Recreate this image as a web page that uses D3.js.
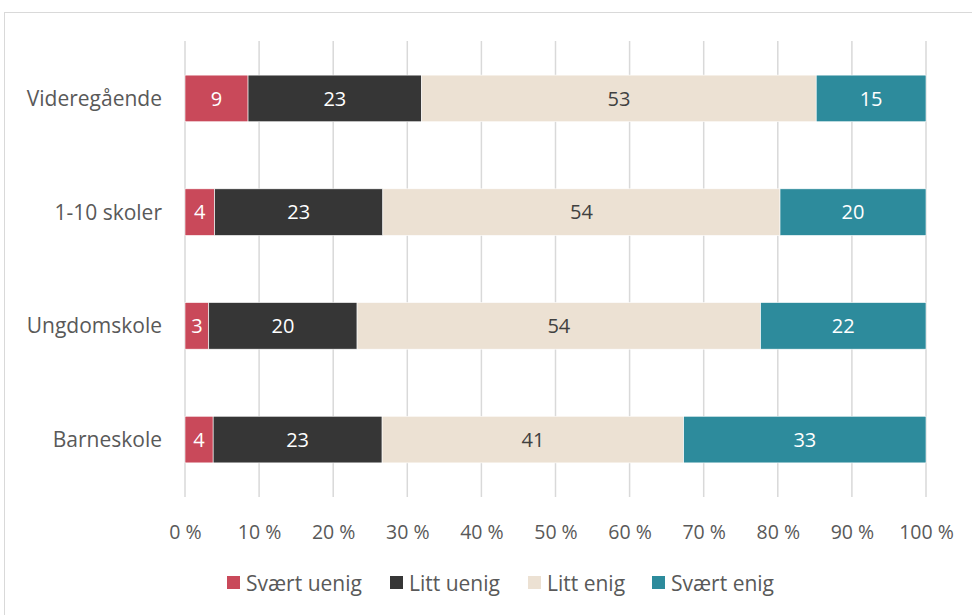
<!DOCTYPE html>
<html>
<head>
<meta charset="utf-8">
<script src="https://cdn.jsdelivr.net/npm/d3@7"></script>
<style>
  body { margin: 0; background: #fff; }
  svg text { font-family: "Open Sans", sans-serif; fill: #595959; }
</style>
</head>
<body>
<svg id="chart" width="972" height="615"></svg>
<script>
// data (shares in %, labels rounded)
var categories = ["Videregående", "1-10 skoler", "Ungdomskole", "Barneskole"];
var seriesNames = ["Svært uenig", "Litt uenig", "Litt enig", "Svært enig"];
var seriesColors = ["#C9495A", "#363636", "#ECE1D3", "#2D8B9C"];
var svartUenig = [8.5, 4.0, 3.2, 3.8];
var littUenig = [23.4, 22.7, 20.0, 22.8];
var littEnig = [53.2, 53.6, 54.4, 40.7];
var svartEnig = [14.8, 19.7, 22.3, 32.7];
var tickValues = [0, 10, 20, 30, 40, 50, 60, 70, 80, 90, 100];

var svg = d3.select("#chart");

// outer frame (runs off right and bottom)
svg.append("rect")
  .attr("x", 4.5).attr("y", 12.5)
  .attr("width", 1000).attr("height", 700)
  .style("fill", "none").style("stroke", "#d9d9d9");

var x = d3.scaleLinear().domain([0, 100]).range([185, 926]);
var y = d3.scaleBand().domain(categories).range([41, 497]).paddingInner(0.59).paddingOuter(0.3);

// grid lines
svg.selectAll(".grid").data(tickValues).enter().append("line")
  .attr("class", "grid")
  .attr("x1", d => x(d)).attr("x2", d => x(d))
  .attr("y1", 41).attr("y2", 497)
  .style("stroke", "#d9d9d9").style("stroke-width", 1.5);

// build stacked rows
var table = categories.map(function(c, i) {
  return { cat: c, s0: svartUenig[i], s1: littUenig[i], s2: littEnig[i], s3: svartEnig[i] };
});
var stack = d3.stack().keys(["s0", "s1", "s2", "s3"]).offset(d3.stackOffsetExpand)(table);

var layer = svg.selectAll(".layer").data(stack).enter().append("g")
  .attr("class", "layer");

layer.selectAll("rect").data(d => d).enter().append("rect")
  .attr("x", d => x(d[0] * 100))
  .attr("width", d => x(d[1] * 100) - x(d[0] * 100))
  .attr("y", d => y(d.data.cat))
  .attr("height", y.bandwidth())
  .style("fill", function() { return seriesColors[d3.select(this.parentNode).datum().index]; })
  .style("stroke", "#ffffff").style("stroke-width", 0.6);

layer.selectAll("text").data(d => d.map(v => ({ v: v, key: d.key, idx: d.index }))).enter().append("text")
  .attr("x", d => (x(d.v[0] * 100) + x(d.v[1] * 100)) / 2)
  .attr("y", d => y(d.v.data.cat) + y.bandwidth() / 2)
  .attr("dy", "0.36em")
  .attr("text-anchor", "middle")
  .style("font-size", "20px")
  .style("fill", d => d.idx == 2 ? "#404040" : "#ffffff")
  .text(d => Math.round(d.v.data[d.key]));

// category labels
svg.selectAll(".cat").data(categories).enter().append("text")
  .attr("class", "cat")
  .attr("x", 162)
  .attr("y", d => y(d) + y.bandwidth() / 2)
  .attr("dy", "0.36em")
  .attr("text-anchor", "end")
  .style("font-size", "21px")
  .text(d => d);

// x axis labels
var xAxis = d3.axisBottom(x).tickValues(tickValues).tickSize(0).tickPadding(0)
  .tickFormat(d => d + " %");
var gx = svg.append("g").attr("transform", "translate(0,525)").call(xAxis);
gx.select(".domain").remove();
gx.selectAll("text").style("font-size", "19.5px").style("fill", "#595959")
  .style("font-family", "'Open Sans', sans-serif");

// legend
var legendX = [227, 390, 528, 652];
var lg = svg.selectAll(".lg").data(seriesNames).enter().append("g")
  .attr("class", "lg")
  .attr("transform", (d, i) => "translate(" + legendX[i] + ",576)");
lg.append("rect").attr("width", 13).attr("height", 13)
  .style("fill", (d, i) => seriesColors[i]);
lg.append("text").attr("x", 19).attr("y", 7).attr("dy", "0.36em")
  .style("font-size", "21px")
  .text(d => d);
</script>
</body>
</html>
